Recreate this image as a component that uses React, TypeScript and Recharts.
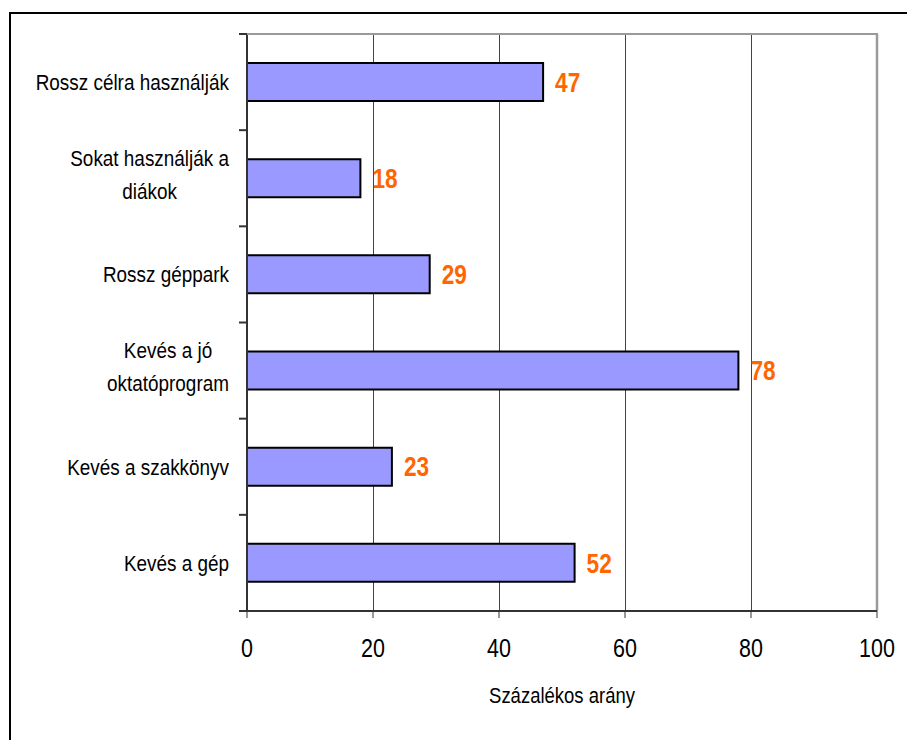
import React from 'react';
import {
  BarChart,
  Bar,
  XAxis,
  YAxis,
  CartesianGrid,
  LabelList,
  ReferenceLine,
} from 'recharts';

// rows, top to bottom; "\n" marks where a category label wraps
const categories = [
  'Rossz célra használják',
  'Sokat használják a\ndiákok',
  'Rossz géppark',
  'Kevés a jó\noktatóprogram',
  'Kevés a szakkönyv',
  'Kevés a gép',
];
const shares = [47, 18, 29, 78, 23, 52];
const xTicks = [0, 20, 40, 60, 80, 100];
const xTitle = 'Százalékos arány';

const data = categories.map((name, i) => ({ name, value: shares[i] }));

const W = 907;
const H = 740;
const MARGIN = { top: 34, right: 30, bottom: 69, left: 8 };
const Y_AXIS_W = 239;
const X_AXIS_H = 60;
const PLOT_LEFT = MARGIN.left + Y_AXIS_W;
const PLOT_RIGHT = W - MARGIN.right;
const PLOT_TOP = MARGIN.top;
const PLOT_H = H - MARGIN.top - MARGIN.bottom - X_AXIS_H;
const BAND = PLOT_H / categories.length;

// no narrow face installed, so Arial-style text is squeezed horizontally
const FONT = 'Arial, "Liberation Sans", sans-serif';
const SQUEEZE = 0.86;
const CAT_SIZE = 22;
const LINE_GAP = 33;
const FRAME = '#9a9a9a';

let ctx: CanvasRenderingContext2D | null = null;
function textWidth(s: string, size: number) {
  if (!ctx) ctx = document.createElement('canvas').getContext('2d');
  if (!ctx) return s.length * size * 0.5 * SQUEEZE;
  ctx.font = `${size}px ${FONT}`;
  return ctx.measureText(s).width * SQUEEZE;
}

function Narrow(props: any) {
  const { x, y, children, scale = SQUEEZE, ...rest } = props;
  return (
    <text transform={`translate(${x},${y}) scale(${scale},1)`} x={0} y={0} fontFamily={FONT} {...rest}>
      {children}
    </text>
  );
}

function CategoryTick(props: any) {
  const { y, payload } = props;
  const idx = categories.indexOf(String(payload.value));
  const lines: string[] = String(payload.value).split('\n');
  const right = PLOT_LEFT - 18;
  const top = PLOT_TOP + idx * BAND;
  const marks = [top];
  if (idx === categories.length - 1) marks.push(top + BAND);

  let textEls;
  if (lines.length === 1) {
    textEls = (
      <Narrow x={right} y={y} dy="0.36em" textAnchor="end" fontSize={CAT_SIZE} fill="#000">
        {lines[0]}
      </Narrow>
    );
  } else {
    const widest = Math.max(...lines.map((l) => textWidth(l, CAT_SIZE)));
    const cx = right - widest / 2;
    const first = y - ((lines.length - 1) * LINE_GAP) / 2 - 4;
    textEls = lines.map((l, i) => (
      <Narrow key={i} x={cx} y={first + i * LINE_GAP} dy="0.36em" textAnchor="middle" fontSize={CAT_SIZE} fill="#000">
        {l}
      </Narrow>
    ));
  }

  return (
    <g>
      {marks.map((m) => (
        <line key={m} x1={PLOT_LEFT - 8} x2={PLOT_LEFT} y1={m} y2={m} stroke="#333" strokeWidth={2} />
      ))}
      {textEls}
    </g>
  );
}

function ValueTick(props: any) {
  const { x, payload } = props;
  return (
    <Narrow x={x} y={PLOT_TOP + PLOT_H + 46} textAnchor="middle" fontSize={25} fill="#000">
      {payload.value}
    </Narrow>
  );
}

function ValueLabel(props: any) {
  const { x, y, width, height, value } = props;
  return (
    <Narrow
      x={x + width + 12}
      y={y + height / 2}
      scale={0.84}
      dy="0.36em"
      fontSize={27}
      fontWeight="bold"
      fill="#FF6600"
    >
      {value}
    </Narrow>
  );
}

function GridLine(p: any) {
  return (
    <line
      key={p.key}
      x1={Math.round(p.x1) + 0.5}
      x2={Math.round(p.x2) + 0.5}
      y1={p.y1}
      y2={p.y2}
      stroke="#444"
      strokeWidth={1}
      shapeRendering="crispEdges"
    />
  );
}

export default function App() {
  return (
    <div style={{ position: 'absolute', left: 0, top: 0, width: W, height: H, overflow: 'hidden', background: '#fff' }}>
      <div
        style={{
          position: 'absolute',
          left: 9,
          top: 12,
          width: W,
          height: H,
          borderLeft: '2px solid #000',
          borderTop: '2px solid #000',
        }}
      />
      <div style={{ position: 'absolute', left: 0, top: 0 }}>
        <BarChart width={W} height={H} data={data} layout="vertical" margin={MARGIN} barSize={38}>
          <CartesianGrid horizontal={false} vertical={GridLine} />
          <ReferenceLine x={100} stroke={FRAME} strokeWidth={2.5} />
          <XAxis
            type="number"
            domain={[0, 100]}
            ticks={xTicks}
            interval={0}
            height={X_AXIS_H}
            axisLine={{ stroke: '#333', strokeWidth: 2 }}
            tickLine={{ stroke: '#333', strokeWidth: 1 }}
            tickSize={7}
            tick={<ValueTick />}
            label={{
              content: ({ viewBox }: any) => (
                <Narrow
                  x={viewBox.x + viewBox.width / 2}
                  y={viewBox.y + 92}
                  textAnchor="middle"
                  fontSize={21.5}
                  fill="#000"
                >
                  {xTitle}
                </Narrow>
              ),
            }}
          />
          <YAxis
            type="category"
            dataKey="name"
            width={Y_AXIS_W}
            axisLine={{ stroke: '#333', strokeWidth: 2 }}
            tickLine={false}
            interval={0}
            tick={<CategoryTick />}
          />
          <Bar dataKey="value" fill="#9999FF" stroke="#000" strokeWidth={2} isAnimationActive={false}>
            <LabelList dataKey="value" content={<ValueLabel />} />
          </Bar>
        </BarChart>
      </div>
      {/* grey top edge of the plot area */}
      <div
        style={{
          position: 'absolute',
          left: PLOT_LEFT,
          top: PLOT_TOP - 1,
          width: PLOT_RIGHT - PLOT_LEFT + 1,
          height: 2,
          background: FRAME,
          pointerEvents: 'none',
        }}
      />
    </div>
  );
}
